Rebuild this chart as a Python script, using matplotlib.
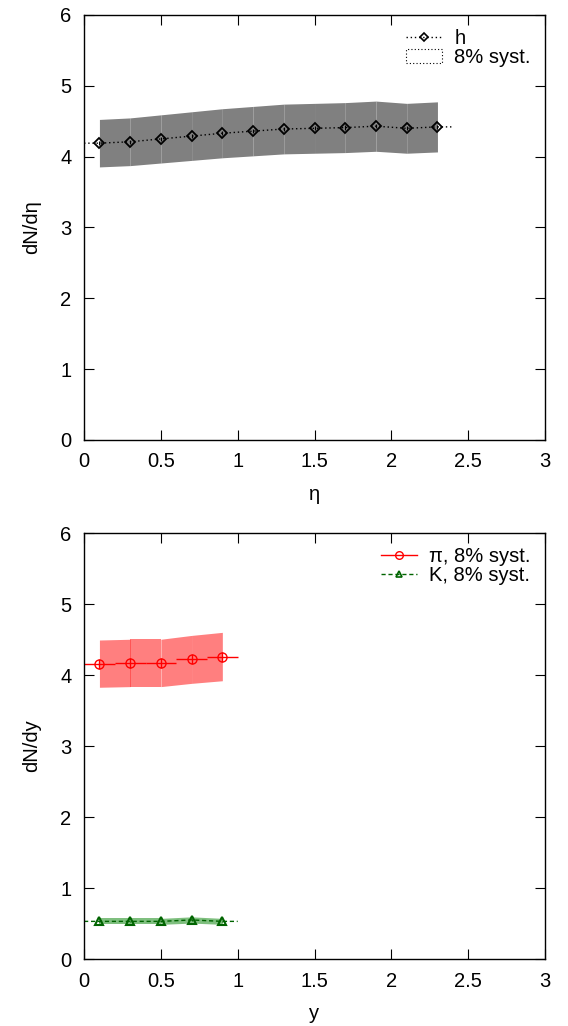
import numpy as np
import matplotlib.pyplot as plt
from matplotlib.patches import Rectangle
from matplotlib.lines import Line2D

plt.rcParams['font.family'] = ['Liberation Sans', 'DejaVu Sans']

# charged hadrons vs eta
eta = [0.1, 0.3, 0.5, 0.7, 0.9, 1.1, 1.3, 1.5, 1.7, 1.9, 2.1, 2.3]
h_dndeta = [4.19, 4.21, 4.25, 4.29, 4.33, 4.36, 4.39, 4.40, 4.41, 4.43, 4.40, 4.42]

# identified pions and kaons vs rapidity
y_bins = [0.1, 0.3, 0.5, 0.7, 0.9]
pi_dndy = [4.16, 4.17, 4.17, 4.22, 4.26]
k_dndy = [0.53, 0.53, 0.53, 0.55, 0.53]

syst = 0.08
half_bin = 0.1
FS = 14.5
DOT = (0, (1, 2))
DASH = (0, (3, 2))


def band(ax, x, v, color, alpha):
    x = np.array(x)
    v = np.array(v)
    lo = v * (1 - syst)
    hi = v * (1 + syst)
    # one quad per interval, like gnuplot filledcurves
    for i in range(len(x) - 1):
        ax.fill_between(x[i:i+2], lo[i:i+2], hi[i:i+2], color=color,
                        alpha=alpha, linewidth=0)


def xy_errlines(ax, x, v, yerr, color, ls, marker, ms, mew):
    x = np.array(x)
    v = np.array(v)
    # connecting line, stretched out to the outer bin edges
    xs = np.concatenate([[x[0] - half_bin], x, [x[-1] + half_bin]])
    vs = np.concatenate([[v[0]], v, [v[-1]]])
    ax.plot(xs, vs, color=color, ls=ls, lw=1.0)
    ax.errorbar(x, v, yerr=yerr, color=color, ls='none', marker=marker,
                ms=ms, mfc='none', mew=mew, elinewidth=0.8, capsize=0)


def style(ax, xlabel, ylabel):
    ax.set_xlim(0, 3)
    ax.set_ylim(0, 6)
    ax.set_xticks([0, 0.5, 1, 1.5, 2, 2.5, 3])
    ax.set_xticklabels(['0', '0.5', '1', '1.5', '2', '2.5', '3'])
    ax.set_yticks(range(7))
    ax.tick_params(direction='in', top=True, right=True, length=7,
                   labelsize=FS, pad=9)
    ax.set_xlabel(xlabel, fontsize=FS, labelpad=10)
    ax.set_ylabel(ylabel, fontsize=FS, labelpad=14)
    for s in ax.spines.values():
        s.set_linewidth(1.0)


fig = plt.figure(figsize=(5.68, 10.26), dpi=100)
ax1 = fig.add_axes([0.148, 0.5712, 0.8115, 0.4142])
ax2 = fig.add_axes([0.148, 0.0653, 0.8115, 0.4152])

# top panel
band(ax1, eta, h_dndeta, '#808080', 1.0)
xy_errlines(ax1, eta, h_dndeta, 0.03, 'black', DOT, 'D', 5.5, 1.3)
style(ax1, 'η', 'dN/dη')
h1 = [Line2D([], [], color='black', ls=DOT, lw=1.0, marker='D',
             ms=4.5, mfc='none', mew=1.2),
      Rectangle((0, 0), 1, 1, facecolor='none', edgecolor='black',
                ls=(0, (1, 2)), lw=0.8)]
ax1.legend(h1, ['h', '8% syst.'], loc='upper right', frameon=False,
           fontsize=FS, handlelength=1.8, borderaxespad=0.3,
           labelspacing=0.0, handletextpad=0.6)

# bottom panel
band(ax2, y_bins, pi_dndy, 'red', 0.5)
band(ax2, y_bins, k_dndy, 'green', 0.5)
ax2.errorbar(y_bins, pi_dndy, xerr=half_bin, yerr=0.07, color='red',
             ls='none', marker='o', ms=6.5, mfc='none', mew=1.0,
             elinewidth=1.0, capsize=0)
xy_errlines(ax2, y_bins, k_dndy, 0.01, '#006400', DASH, '^', 5.5, 1.5)
style(ax2, 'y', 'dN/dy')
h2 = [Line2D([], [], color='red', lw=1.0, marker='o', ms=5.5, mfc='none'),
      Line2D([], [], color='#006400', ls=DASH, lw=1.0, marker='^',
             ms=5, mfc='none', mew=1.2)]
ax2.legend(h2, ['π, 8% syst.', 'K, 8% syst.'], loc='upper right',
           frameon=False, fontsize=FS, handlelength=1.8, borderaxespad=0.3,
           labelspacing=0.0, handletextpad=0.6)

fig.savefig('out.png', dpi=100)
